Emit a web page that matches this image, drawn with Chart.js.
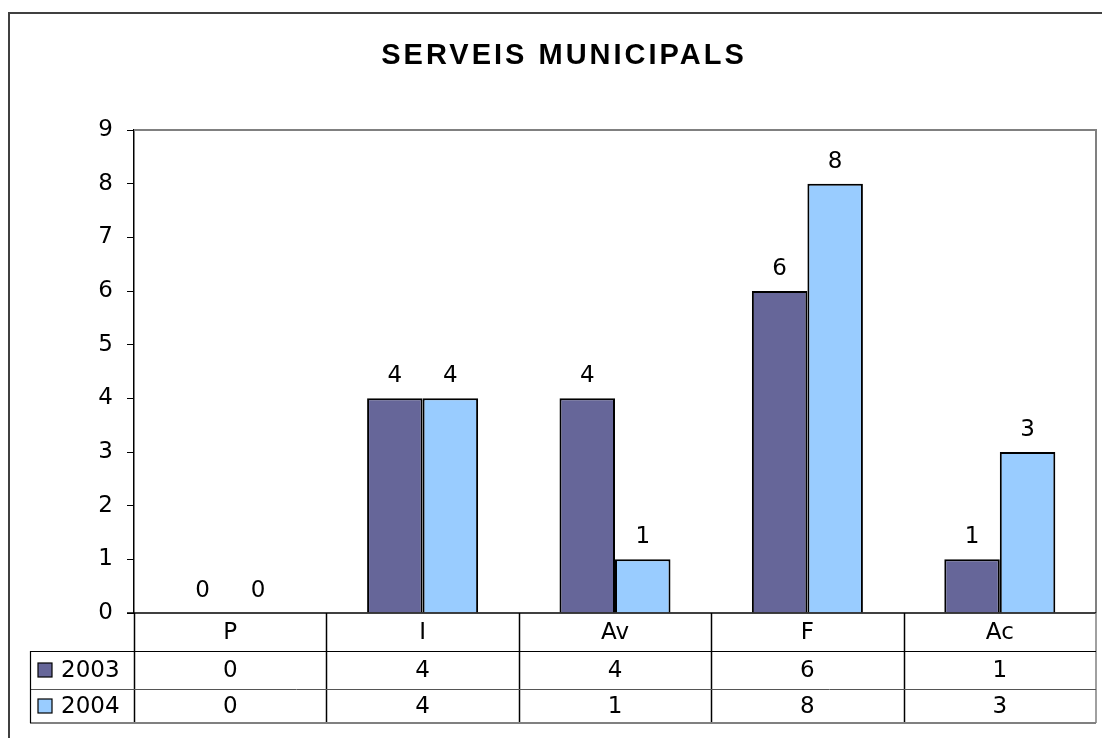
<!DOCTYPE html>
<html>
<head>
<meta charset="utf-8">
<script src="https://cdn.jsdelivr.net/npm/chart.js@4/dist/chart.umd.min.js"></script>
<style>
html,body{margin:0;padding:0;background:#fff;}
canvas{display:block;}
</style>
</head>
<body>
<canvas id="c" width="1102" height="738"></canvas>
<script>
const chartTitle = 'SERVEIS MUNICIPALS';
const categories = ['P', 'I', 'Av', 'F', 'Ac'];
const seriesNames = ['2003', '2004'];
const values2003 = [0, 4, 4, 6, 1];
const values2004 = [0, 4, 1, 8, 3];
const seriesColors = ['#666699', '#99CCFF'];
const yMin = 0, yMax = 9, yStep = 1;

const FONT = '"DejaVu Sans", Verdana, sans-serif';
const FS = 23;

const decor = {
  id: 'decor',
  afterDraw(chart) {
    const ctx = chart.ctx;
    const ca = chart.chartArea;
    const xs = chart.scales.x;
    ctx.save();
    // outer frame
    ctx.strokeStyle = '#404040';
    ctx.lineWidth = 2;
    ctx.strokeRect(9, 13, 1110, 760);
    // title
    ctx.fillStyle = '#000';
    ctx.font = 'bold 29px "Liberation Sans", Arial, sans-serif';
    ctx.letterSpacing = '3px';
    ctx.textAlign = 'center';
    ctx.textBaseline = 'middle';
    ctx.fillText(chartTitle, 564, 56);
    ctx.letterSpacing = '0px';
    // plot border top/right
    ctx.strokeStyle = '#808080';
    ctx.lineWidth = 2;
    ctx.beginPath();
    ctx.moveTo(ca.left, ca.top);
    ctx.lineTo(ca.right, ca.top);
    ctx.lineTo(ca.right, ca.bottom);
    ctx.stroke();
    // data labels
    ctx.font = FS + 'px ' + FONT;
    ctx.fillStyle = '#000';
    ctx.textAlign = 'center';
    ctx.textBaseline = 'middle';
    chart.data.datasets.forEach((ds, di) => {
      const meta = chart.getDatasetMeta(di);
      meta.data.forEach((el, i) => {
        ctx.fillText(String(ds.data[i]), el.x, el.y - 22);
      });
    });
    // data table
    const n = categories.length;
    const cw = (ca.right - ca.left) / n;
    const rowH = [ca.bottom, 651, 689, 723];
    const tableLeft = 30;
    ctx.lineWidth = 1.5;
    ctx.strokeStyle = '#000';
    ctx.beginPath();
    ctx.moveTo(ca.left - 7, ca.bottom);
    ctx.lineTo(ca.right, ca.bottom);
    ctx.stroke();
    for (let i = 0; i < n; i++) {
      const xl = xs.getPixelForValue(i) - cw / 2;
      ctx.beginPath();
      ctx.moveTo(Math.round(xl) + 0.5, ca.bottom);
      ctx.lineTo(Math.round(xl) + 0.5, rowH[3]);
      ctx.stroke();
    }
    ctx.strokeStyle = '#808080';
    ctx.beginPath();
    ctx.moveTo(ca.right, ca.bottom);
    ctx.lineTo(ca.right, rowH[3]);
    ctx.stroke();
    ctx.strokeStyle = '#000';
    ctx.lineWidth = 1.2;
    ctx.beginPath();
    ctx.moveTo(tableLeft, rowH[1] + 0.5);
    ctx.lineTo(ca.right, rowH[1] + 0.5);
    ctx.stroke();
    ctx.strokeStyle = '#555';
    ctx.lineWidth = 1;
    ctx.beginPath();
    ctx.moveTo(tableLeft, rowH[2] + 0.5);
    ctx.lineTo(ca.right, rowH[2] + 0.5);
    ctx.stroke();
    ctx.strokeStyle = '#808080';
    ctx.lineWidth = 2;
    ctx.beginPath();
    ctx.moveTo(tableLeft, rowH[3]);
    ctx.lineTo(ca.right, rowH[3]);
    ctx.stroke();
    ctx.strokeStyle = '#000';
    ctx.lineWidth = 1.2;
    ctx.beginPath();
    ctx.moveTo(tableLeft + 0.5, rowH[1]);
    ctx.lineTo(tableLeft + 0.5, rowH[3]);
    ctx.stroke();
    ctx.fillStyle = '#000';
    ctx.font = FS + 'px ' + FONT;
    ctx.textAlign = 'center';
    ctx.textBaseline = 'middle';
    categories.forEach((c, i) => {
      ctx.fillText(c, xs.getPixelForValue(i), (rowH[0] + rowH[1]) / 2 + 1);
    });
    chart.data.datasets.forEach((ds, di) => {
      const yc = (rowH[di + 1] + rowH[di + 2]) / 2 + 1;
      ds.data.forEach((v, i) => {
        ctx.textAlign = 'center';
        ctx.fillText(String(v), xs.getPixelForValue(i), yc);
      });
      ctx.fillStyle = ds.backgroundColor;
      ctx.fillRect(38, yc - 8, 14, 14);
      ctx.strokeStyle = '#000';
      ctx.lineWidth = 1.2;
      ctx.strokeRect(38, yc - 8, 14, 14);
      ctx.fillStyle = '#000';
      ctx.textAlign = 'left';
      ctx.fillText(ds.label, 61, yc);
    });
    ctx.restore();
  }
};

new Chart(document.getElementById('c'), {
  type: 'bar',
  data: {
    labels: categories,
    datasets: [
      { label: seriesNames[0], data: values2003, backgroundColor: seriesColors[0], borderColor: '#000', borderWidth: 2 },
      { label: seriesNames[1], data: values2004, backgroundColor: seriesColors[1], borderColor: '#000', borderWidth: 2 }
    ]
  },
  options: {
    responsive: false,
    animation: false,
    devicePixelRatio: 1,
    layout: { padding: { left: 0, top: 130, right: 6, bottom: 125 } },
    datasets: { bar: { categoryPercentage: 0.577, barPercentage: 1.0 } },
    plugins: { legend: { display: false }, title: { display: false }, tooltip: { enabled: false } },
    scales: {
      x: { display: false },
      y: {
        min: yMin, max: yMax,
        afterFit(scale) { scale.width = 134; },
        border: { display: true, color: '#000', width: 1.5 },
        grid: { drawOnChartArea: false, drawTicks: true, tickLength: 7, color: '#000' },
        ticks: { stepSize: yStep, padding: 14, color: '#000', font: { family: FONT, size: FS } }
      }
    }
  },
  plugins: [decor]
});
</script>
</body>
</html>
